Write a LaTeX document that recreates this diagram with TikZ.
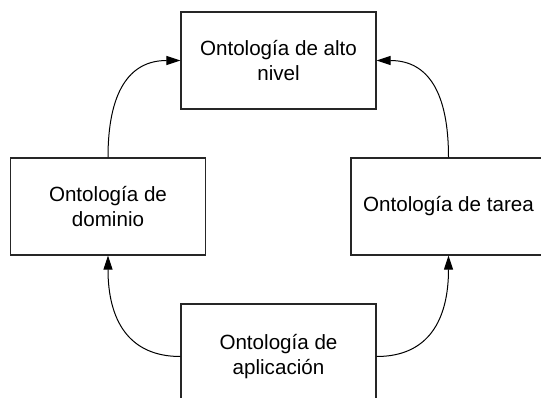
\documentclass[tikz,border=0pt]{standalone}
\usepackage{fontspec}
\setmainfont{Liberation Sans}
\usetikzlibrary{arrows.meta}
\begin{document}
\begin{tikzpicture}[x=1pt,y=-1pt,
  box/.style={draw=black!85,line width=1.3pt,rectangle,minimum width=195pt,minimum height=97pt,inner sep=0pt,align=center,font=\fontsize{20.6}{25}\selectfont},
  arr/.style={draw=black,line width=1pt,-{Triangle[length=14pt,width=9pt]}}]
\useasboundingbox (0,0) rectangle (541,397);
\node[box] (top) at (278.5,60.5) {Ontología de alto\\nivel};
\node[box] (left) at (108,206.5) {Ontología de\\dominio};
\node[box] (right) at (448.5,206.5) {Ontología de tarea};
\node[box,minimum height=105pt] (bottom) at (278.5,356.5) {Ontología de\\aplicación};
\draw[arr] (left.north) .. controls +(0,-64) and +(-52,0) .. (top.west);
\draw[arr] (right.north) .. controls +(0,-64) and +(52,0) .. (top.east);
\draw[arr] (bottom.west) .. controls +(-52,0) and +(0,64) .. (left.south);
\draw[arr] (bottom.east) .. controls +(52,0) and +(0,64) .. (right.south);
\end{tikzpicture}
\end{document}
